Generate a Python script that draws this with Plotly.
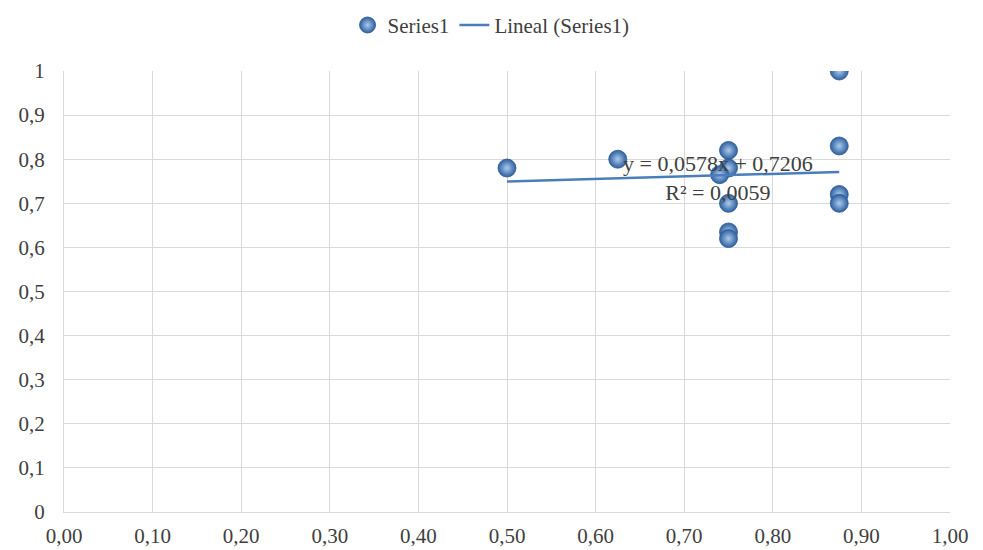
import plotly.graph_objects as go

x_vals = [0.5, 0.625, 0.75, 0.75, 0.74, 0.75, 0.75, 0.75, 0.875, 0.875, 0.875, 0.875]
y_vals = [0.78, 0.80, 0.82, 0.78, 0.765, 0.70, 0.635, 0.62, 1.0, 0.83, 0.72, 0.70]
slope = 0.0578
intercept = 0.7206
r2 = 0.0059
x_ticks = [0, 0.1, 0.2, 0.3, 0.4, 0.5, 0.6, 0.7, 0.8, 0.9, 1.0]

font_family = "Liberation Serif"
text_color = "#404040"

xmin, xmax = min(x_vals), max(x_vals)
trend_x = [xmin, xmax]
trend_y = [slope * v + intercept for v in trend_x]

fig = go.Figure()
fig.add_trace(go.Scatter(
    x=x_vals, y=y_vals, mode="markers", name="Series1",
    marker=dict(size=18, color="#2f5f9e",
                gradient=dict(type="radial", color="#a9cbef"),
                line=dict(width=0.8, color="#2c5a93")),
))
fig.add_trace(go.Scatter(
    x=trend_x, y=trend_y, mode="lines", name="Lineal (Series1)",
    line=dict(color="#4a7ebb", width=2.5),
))

fig.add_annotation(
    x=0.738, y=0.757, xref="x", yref="y",
    text="y = 0,0578x + 0,7206<br>R² = 0,0059",
    showarrow=False, font=dict(family=font_family, size=22, color=text_color),
    align="center",
)

fig.update_layout(
    width=975, height=542,
    margin=dict(l=56, r=33, t=63, b=38),
    paper_bgcolor="white", plot_bgcolor="white",
    separators=", ",
    font=dict(family=font_family, size=21, color=text_color),
    showlegend=True,
    legend=dict(orientation="h", x=0.482, xanchor="center",
                yref="container", y=0.968, yanchor="middle",
                font=dict(family=font_family, size=21, color=text_color)),
)
fig.update_xaxes(range=[0, 1], tickvals=x_ticks, tickformat=".2f",
                 showgrid=True, gridcolor="#d9d9d9", gridwidth=1,
                 showline=True, linecolor="#d9d9d9", zeroline=False,
                 ticks="", ticklabelstandoff=5, automargin=False)
fig.update_yaxes(range=[0, 1], dtick=0.1,
                 showgrid=True, gridcolor="#d9d9d9", gridwidth=1,
                 showline=True, linecolor="#d9d9d9", zeroline=False,
                 ticks="", ticklabelstandoff=14, automargin=False)

fig.write_html("out.html")
